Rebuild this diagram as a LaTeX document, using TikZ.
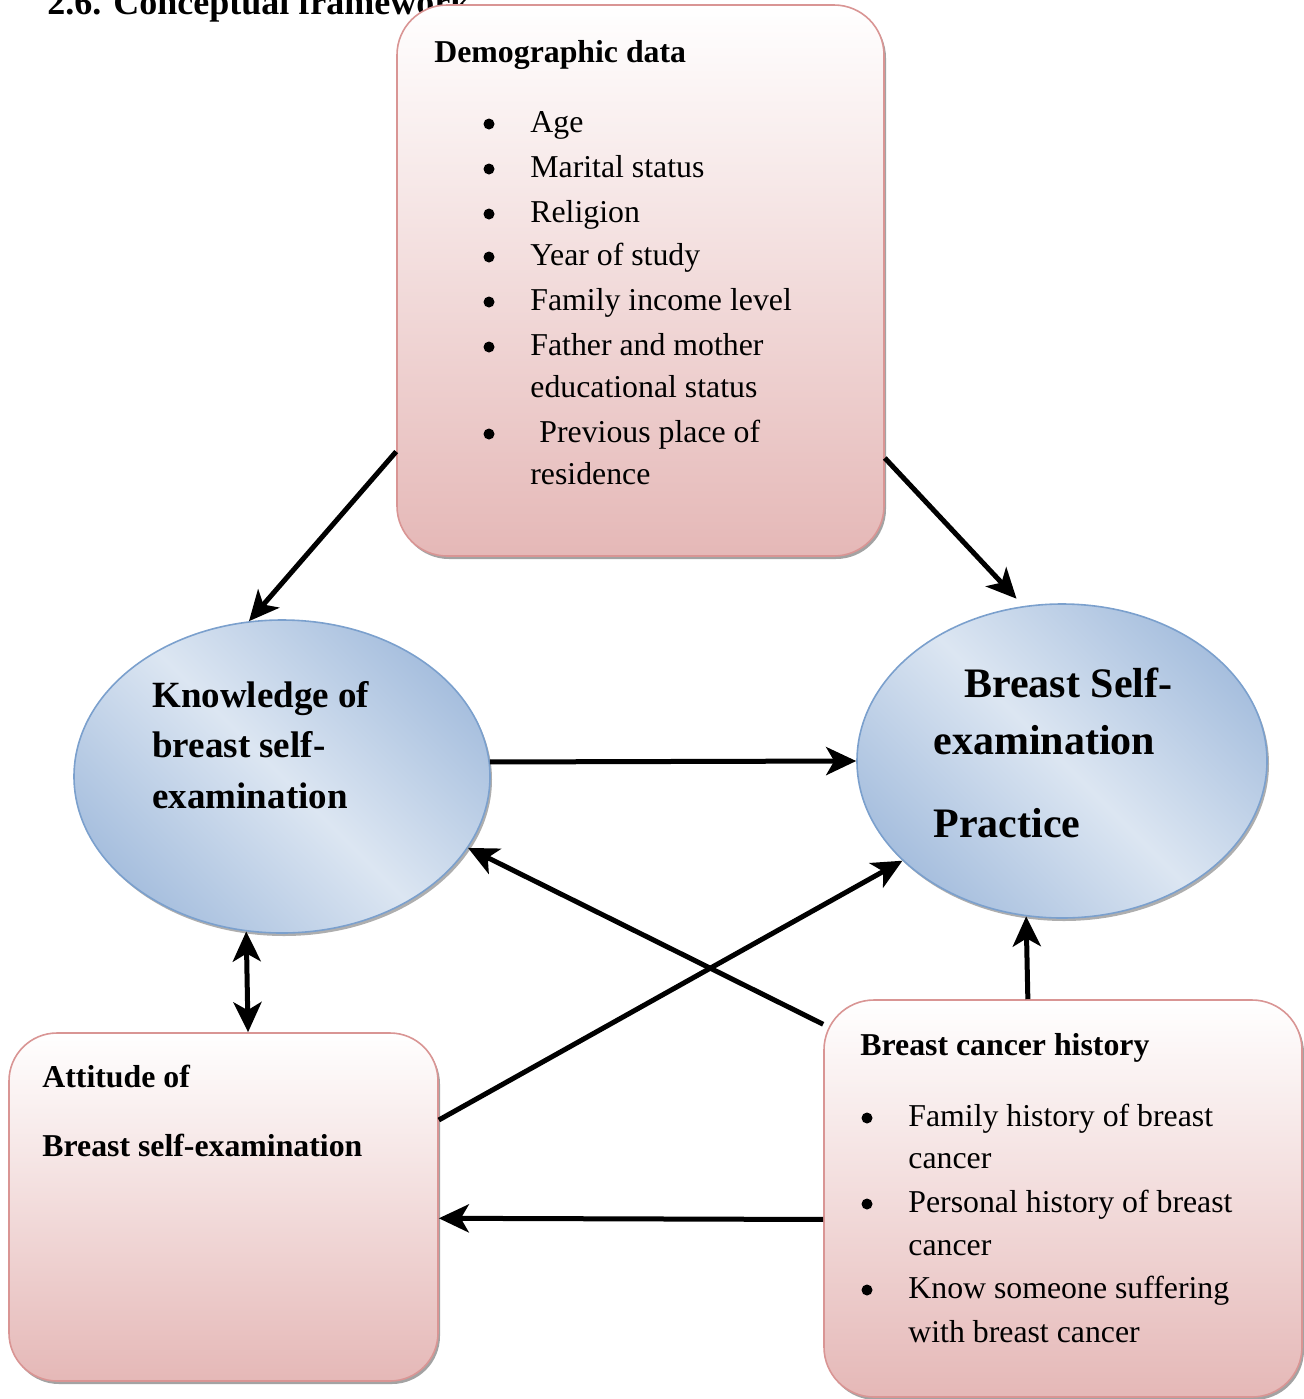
\documentclass[tikz,border=0pt]{standalone}
\usepackage{fontspec}
\setmainfont{Liberation Serif}
\usetikzlibrary{arrows.meta,shapes.geometric,shadows,calc}
\definecolor{pinkfill}{HTML}{E5B8B7}
\definecolor{pinkline}{HTML}{D99594}
\definecolor{bluedark}{HTML}{A7BFDE}
\definecolor{bluelight}{HTML}{DCE6F2}
\definecolor{blueline}{HTML}{7BA0CD}
\begin{document}
\begin{tikzpicture}[x=0.5pt,y=-0.5pt,
  pinkbox/.style={draw=pinkline, line width=0.8pt, rounded corners=25pt, top color=white, bottom color=pinkfill, inner sep=0pt,
    drop shadow={shadow xshift=1pt, shadow yshift=-1.5pt, fill=black!45, opacity=0.8}},
  ell/.style={ellipse, draw=blueline, line width=0.8pt, inner sep=0pt, top color=bluedark, bottom color=bluedark, middle color=bluelight, shading angle=-45,
    drop shadow={shadow xshift=1pt, shadow yshift=-1.5pt, fill=black!45, opacity=0.7}},
  txt/.style={anchor=base west, inner sep=0pt, font=\fontsize{15.9pt}{19pt}\selectfont},
  btxt/.style={anchor=base west, inner sep=0pt, font=\bfseries\fontsize{15.9pt}{19pt}\selectfont},
  ktxt/.style={anchor=base west, inner sep=0pt, font=\bfseries\fontsize{18.5pt}{22pt}\selectfont},
  ptxt/.style={anchor=base west, inner sep=0pt, font=\bfseries\fontsize{21pt}{25pt}\selectfont},
  bul/.style={circle, fill=black, inner sep=0pt, minimum size=5.5pt},
  arr/.style={line width=2.5pt, -{Stealth[length=15pt,width=14pt,inset=4pt]}},
  darr/.style={line width=2.5pt, {Stealth[length=15pt,width=14pt,inset=4pt]}-{Stealth[length=15pt,width=14pt,inset=4pt]}}
]
\useasboundingbox (0,0) rectangle (1304,1399);

% title (partly hidden behind the top box)
\node[anchor=base west, inner sep=0pt, font=\bfseries\fontsize{18pt}{21pt}\selectfont] (title) at (47,14) {2.6. Conceptual framework};

% shapes
\node[pinkbox, minimum width=243.5pt, minimum height=275.5pt] (demo) at (640.5,280.5) {};
\node[pinkbox, rounded corners=24pt, minimum width=214.5pt, minimum height=174pt] (att) at (223.5,1207) {};
\node[pinkbox, minimum width=239pt, minimum height=198.5pt] (bch) at (1063,1198.5) {};
\node[ell, minimum width=208pt, minimum height=156.5pt] (know) at (282,776.5) {};
\node[ell, minimum width=205pt, minimum height=157pt] (prac) at (1062,761) {};

% demographic data
\node[btxt] (dh) at (434,62) {Demographic data};
\node[bul] (db1) at (489,124) {};
\node[txt] (d1) at (530,132) {Age};
\node[bul] (db2) at (489,169) {};
\node[txt] (d2) at (530,177) {Marital status};
\node[bul] (db3) at (489,214) {};
\node[txt] (d3) at (530,222) {Religion};
\node[bul] (db4) at (489,257) {};
\node[txt] (d4) at (530,265) {Year of study};
\node[bul] (db5) at (489,302) {};
\node[txt] (d5) at (530,310) {Family income level};
\node[bul] (db6) at (489,347) {};
\node[txt] (d6) at (530,355) {Father and mother};
\node[txt] (d6b) at (530,397) {educational status};
\node[bul] (db7) at (489,434) {};
\node[txt] (d7) at (539,442) {Previous place of};
\node[txt] (d7b) at (530,484) {residence};

% knowledge
\node[ktxt] (k1) at (152,707) {Knowledge of};
\node[ktxt] (k2) at (152,757) {breast self-};
\node[ktxt] (k3) at (152,808) {examination};

% practice
\node[ptxt] (p1) at (964,697) {Breast Self-};
\node[ptxt] (p2) at (933,754) {examination};
\node[ptxt] (p3) at (933,837) {Practice};

% attitude
\node[btxt] (a1) at (42,1087) {Attitude of};
\node[btxt] (a2) at (42,1156) {Breast self-examination};

% breast cancer history
\node[btxt] (bh) at (860,1055) {Breast cancer history};
\node[bul] (bb1) at (867,1118) {};
\node[txt] (b1) at (908,1126) {Family history of breast};
\node[txt] (b1b) at (908,1168) {cancer};
\node[bul] (bb2) at (867,1204) {};
\node[txt] (b2) at (908,1212) {Personal history of breast};
\node[txt] (b2b) at (908,1255) {cancer};
\node[bul] (bb3) at (867,1290) {};
\node[txt] (b3) at (908,1298) {Know someone suffering};
\node[txt] (b3b) at (908,1342) {with breast cancer};

% connectors
\draw[arr] (demo.215.6) -- (know.102.6);
\draw[arr, shorten >=5pt] (demo.-36.1) -- (prac.104.9);
\draw[arr] (know.4.3) -- (prac.west);
\draw[arr] (bch.144.8) -- (know.-21);
\draw[arr] (att.22.76) -- (prac.212.4);
\draw[darr] (know.257.6) -- (att.82);
\draw[arr] (bch.100.8) -- (prac.-103.5);
\draw[arr] (bch.185.1) -- (att.-3.47);
\end{tikzpicture}
\end{document}
